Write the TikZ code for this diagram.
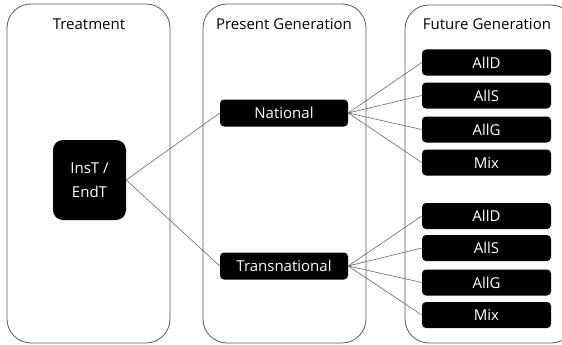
\documentclass[tikz,border=0pt]{standalone}
\usepackage{fontspec}
\setmainfont{Open Sans}
\begin{document}
\begin{tikzpicture}[x=1pt,y=-1pt,
  panel/.style={draw=black!65, line width=0.8pt, rounded corners=24pt},
  title/.style={font=\fontsize{15}{18}\selectfont, anchor=center},
  blk/.style={fill=black, text=white, rounded corners=4pt, inner sep=0pt,
    font=\fontsize{15}{18}\selectfont, anchor=center},
  link/.style={draw=black!60, line width=0.6pt}]
\useasboundingbox (0,0) rectangle (562,345);
% columns
\draw[panel] (7,4) rectangle (170,343);
\draw[panel] (203,4) rectangle (366,343);
\draw[panel] (405,5) rectangle (575,343);
\node[title] (tTreat) at (89,24) {Treatment};
\node[title] (tPres) at (284,24) {Present Generation};
\node[title] (tFut) at (487,24) {Future Generation};
% treatment
\node[blk, minimum width=73pt, minimum height=80pt, rounded corners=10pt,
  align=center, font=\fontsize{15}{24}\selectfont] (treat) at (89.5,180) {InsT /\\EndT};
% present generation
\node[blk, minimum width=128pt, minimum height=27pt] (nat) at (284,113) {National};
\node[blk, minimum width=128pt, minimum height=27pt] (trans) at (284,266) {Transnational};
% future generation
\foreach \n/\t/\y in {a1/AllD/62.5, a2/AllS/95.5, a3/AllG/129.5, a4/Mix/162.5,
                      b1/AllD/216, b2/AllS/248, b3/AllG/282.5, b4/Mix/315}
  \node[blk, minimum width=129pt, minimum height=26pt] (\n) at (486.5,\y) {\t};
% connectors
\draw[link] (treat.east) -- (nat.west);
\draw[link] (treat.east) -- (trans.west);
\foreach \n in {a1,a2,a3,a4} \draw[link] (nat.east) -- (\n.west);
\foreach \n in {b1,b2,b3,b4} \draw[link] (trans.east) -- (\n.west);
\end{tikzpicture}
\end{document}
